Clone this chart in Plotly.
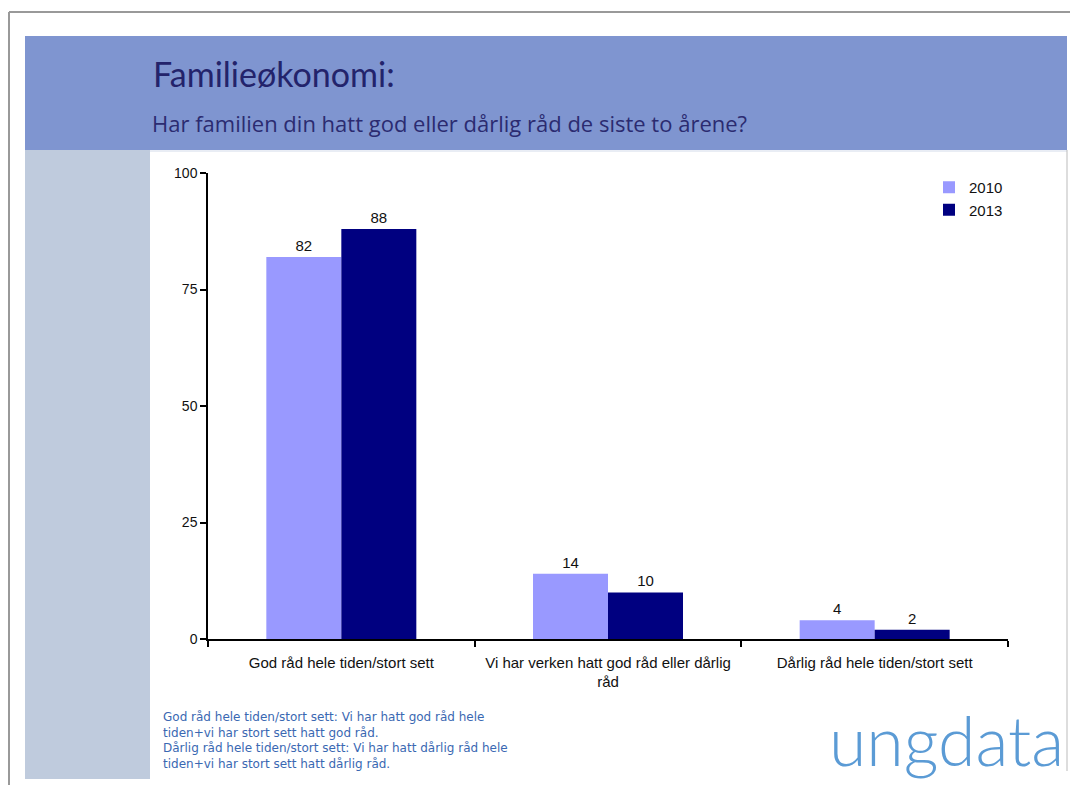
import plotly.graph_objects as go

categories = ["God råd hele tiden/stort sett",
              "Vi har verken hatt god råd eller dårlig<br>råd",
              "Dårlig råd hele tiden/stort sett"]
series_names = ["2010", "2013"]
values_2010 = [82, 14, 4]
values_2013 = [88, 10, 2]
colors = ["#9999FF", "#000080"]
y_ticks = [0, 25, 50, 75, 100]

title_text = "Familieøkonomi:"
subtitle_text = "Har familien din hatt god eller dårlig råd de siste to årene?"
footnote_lines = [
    "God råd hele tiden/stort sett: Vi har hatt god råd hele",
    "tiden+vi har stort sett hatt god råd.",
    "Dårlig råd hele tiden/stort sett: Vi har hatt dårlig råd hele",
    "tiden+vi har stort sett hatt dårlig råd.",
]
logo_text = "ungdata"

# the page places the figure 8px from the window's top-left corner
OFF = 8
W, H = 1078 - OFF, 785 - OFF
# plot area in window pixels
L, R, T, B = 208, 1008, 173, 639


def px(x):
    return (x - L) / (R - L)


def py(y):
    return (B - y) / (B - T)


fig = go.Figure()
for name, vals, col in zip(series_names, [values_2010, values_2013], colors):
    fig.add_trace(go.Bar(
        name=name, x=categories, y=vals,
        marker=dict(color=col, line=dict(width=0)),
        text=vals, textposition="outside", cliponaxis=False,
        textfont=dict(family="Liberation Sans, Arial", size=15, color="#111111"),
    ))

P = dict(xref="paper", yref="paper")
shapes = [
    # header band
    dict(type="rect", x0=px(25), x1=px(1067), y0=py(36), y1=py(150),
         fillcolor="#7F95D0", line=dict(width=0), layer="below", **P),
    # left panel
    dict(type="rect", x0=px(25), x1=px(150), y0=py(150), y1=py(779),
         fillcolor="#BFCBDD", line=dict(width=0), layer="below", **P),
    # thin line under header
    dict(type="line", x0=px(150), x1=px(1067), y0=py(151), y1=py(151),
         line=dict(color="#D3DBEA", width=1), layer="below", **P),
    # right border line
    dict(type="line", x0=px(1067), x1=px(1067), y0=py(150), y1=py(771),
         line=dict(color="#BBBBBB", width=1), layer="below", **P),
    # outer frame
    dict(type="line", x0=px(9), x1=px(1078), y0=py(12), y1=py(12),
         line=dict(color="#999999", width=2), layer="below", **P),
    dict(type="line", x0=px(9), x1=px(9), y0=py(12), y1=py(785),
         line=dict(color="#999999", width=2), layer="below", **P),
]

annotations = [
    dict(text=title_text, x=px(151), y=py(73), xanchor="left", yanchor="middle",
         showarrow=False, font=dict(family="Lato", size=34, color="#23236B"), **P),
    dict(text=subtitle_text, x=px(150), y=py(123), xanchor="left", yanchor="middle",
         showarrow=False, font=dict(family="Open Sans", size=22, color="#2B2B70"), **P),
    dict(text="<br>".join(footnote_lines), x=px(161), y=py(708),
         xanchor="left", yanchor="top", align="left", showarrow=False,
         font=dict(family="DejaVu Sans", size=12, color="#3A68B2"), **P),
    dict(text=logo_text, x=px(1066), y=py(739), xanchor="right", yanchor="middle",
         showarrow=False, font=dict(family="Lato", size=68, color="#5B9BD5", weight=300), **P),
]

fig.update_layout(
    width=W, height=H,
    margin=dict(l=L - OFF, r=W - (R - OFF), t=T - OFF, b=H - (B - OFF), pad=0),
    paper_bgcolor="white", plot_bgcolor="white",
    barmode="group", bargap=0.4375, bargroupgap=0,
    showlegend=True,
    legend=dict(x=px(929), y=py(171), xanchor="left", yanchor="top",
                font=dict(family="Liberation Sans, Arial", size=15, color="#111111"),
                bgcolor="rgba(0,0,0,0)", itemwidth=30, tracegroupgap=0),
    shapes=shapes, annotations=annotations,
    font=dict(family="Liberation Sans, Arial", color="#111111"),
)
fig.update_yaxes(range=[0, 100], tickvals=y_ticks, showgrid=False, zeroline=False,
                 showline=True, linecolor="black", linewidth=1.5,
                 ticks="outside", ticklen=6, tickcolor="black", tickwidth=1.5,
                 tickfont=dict(family="Liberation Sans, Arial", size=14, color="#111111"))
fig.update_xaxes(showgrid=False, showline=True, linecolor="black", linewidth=1.5,
                 ticks="outside", tickson="boundaries", ticklen=6, tickcolor="black", tickwidth=1.5,
                 ticklabelstandoff=9,
                 tickfont=dict(family="Liberation Sans, Arial", size=15, color="#111111"))

fig.write_html("out.html")
